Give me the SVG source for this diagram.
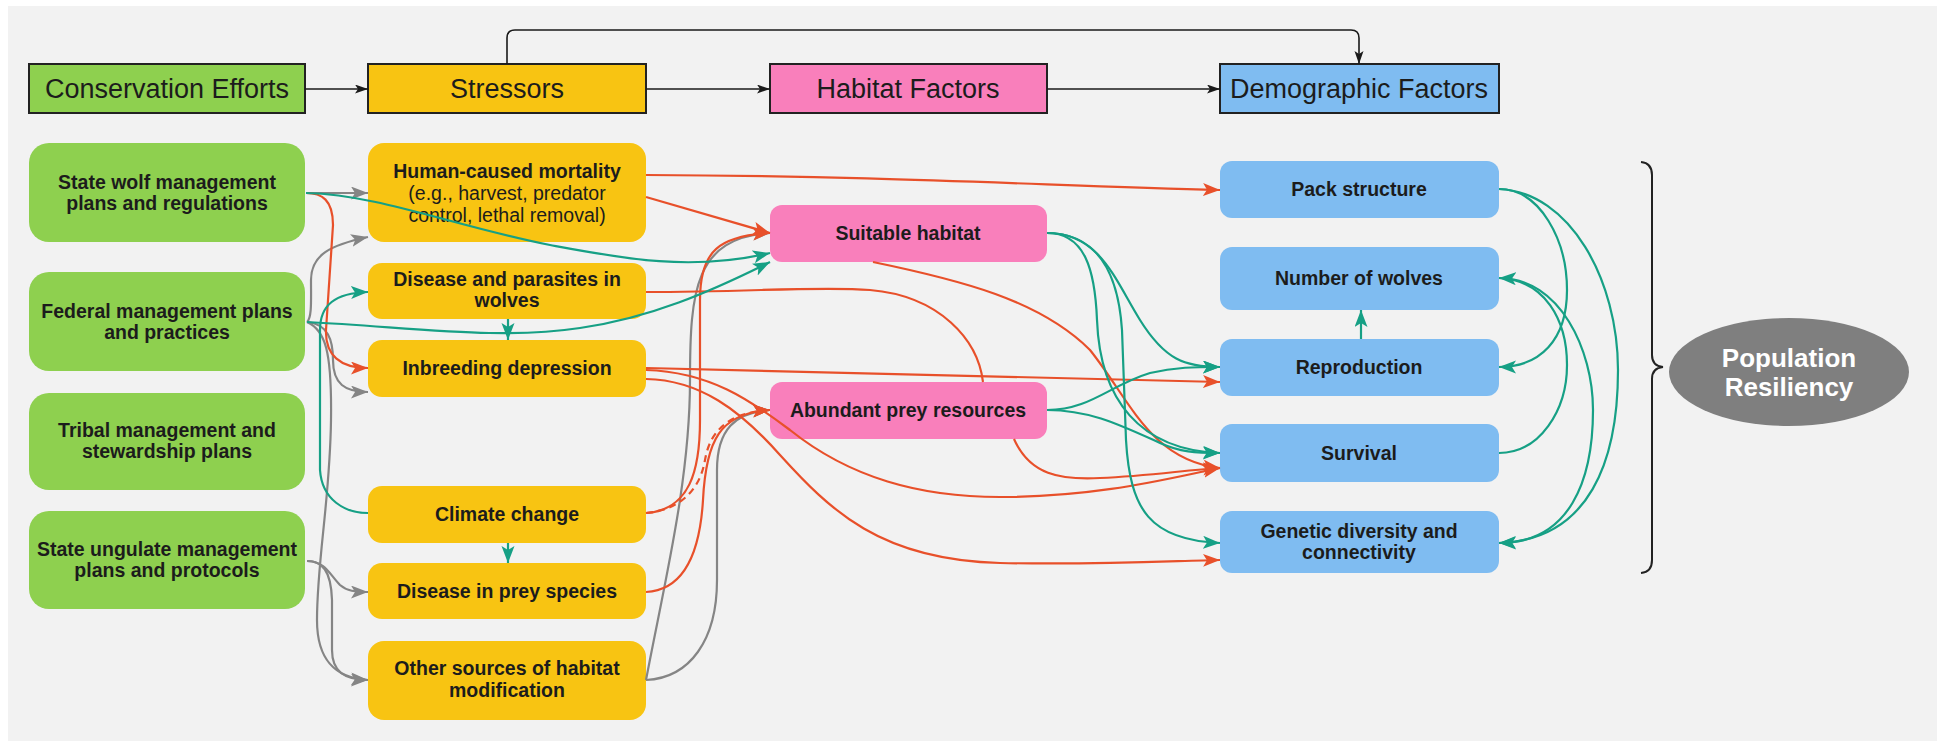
<svg xmlns="http://www.w3.org/2000/svg" width="1937" height="741" viewBox="0 0 1937 741">
<defs>
<style>
text{font-family:"Liberation Sans",Arial,sans-serif;fill:#1c1c1c;text-anchor:middle}
.th{font-size:27px}
.tb{font-size:19.5px;font-weight:bold}
.tr{font-size:19.5px}
.tw{font-size:26px;font-weight:bold;fill:#ffffff}
.hb{stroke:#222;stroke-width:2}
.g{fill:#8ed04f}.y{fill:#f8c412}.p{fill:#f97fbb}.b{fill:#7fbcf1}
.cb{fill:none;stroke:#1a1a1a;stroke-width:1.6;marker-end:url(#mk)}
.cr{fill:none;stroke:#e8502a;stroke-width:2.2;marker-end:url(#mr)}
.ct{fill:none;stroke:#16a085;stroke-width:2.2;marker-end:url(#mt)}
.cg{fill:none;stroke:#858585;stroke-width:2.2;marker-end:url(#mg)}
</style>
<marker id="mk" markerUnits="userSpaceOnUse" markerWidth="14" markerHeight="10" refX="13" refY="4.5" orient="auto"><path d="M0,0 L13,4.5 L0,9 L3,4.5 Z" fill="#1a1a1a"/></marker>
<marker id="mr" markerUnits="userSpaceOnUse" markerWidth="18" markerHeight="14" refX="17" refY="6.5" orient="auto"><path d="M0,0 L17,6.5 L0,13 L4,6.5 Z" fill="#e8502a"/></marker>
<marker id="mt" markerUnits="userSpaceOnUse" markerWidth="18" markerHeight="14" refX="17" refY="6.5" orient="auto"><path d="M0,0 L17,6.5 L0,13 L4,6.5 Z" fill="#16a085"/></marker>
<marker id="mg" markerUnits="userSpaceOnUse" markerWidth="18" markerHeight="14" refX="17" refY="6.5" orient="auto"><path d="M0,0 L17,6.5 L0,13 L4,6.5 Z" fill="#858585"/></marker>
</defs>
<rect x="0" y="0" width="1937" height="741" fill="#ffffff"/>
<rect x="8" y="6" width="1929" height="735" fill="#f2f2f2"/>

<g id="header-conservation"><rect class="g hb" x="29" y="64" width="276" height="49"/><text class="th" x="167" y="98">Conservation Efforts</text></g>
<g id="header-stressors"><rect class="y hb" x="368" y="64" width="278" height="49"/><text class="th" x="507" y="98">Stressors</text></g>
<g id="header-habitat"><rect class="p hb" x="770" y="64" width="277" height="49"/><text class="th" x="908" y="98">Habitat Factors</text></g>
<g id="header-demographic"><rect class="b hb" x="1220" y="64" width="279" height="49"/><text class="th" x="1359" y="98">Demographic Factors</text></g>

<g id="n-state-wolf"><rect class="g" x="29" y="143" width="276" height="99" rx="20"/><text class="tb" x="167" y="189">State wolf management</text><text class="tb" x="167" y="210">plans and regulations</text></g>
<g id="n-federal"><rect class="g" x="29" y="272" width="276" height="99" rx="20"/><text class="tb" x="167" y="318">Federal management plans</text><text class="tb" x="167" y="339">and practices</text></g>
<g id="n-tribal"><rect class="g" x="29" y="393" width="276" height="97" rx="20"/><text class="tb" x="167" y="437">Tribal management and</text><text class="tb" x="167" y="458">stewardship plans</text></g>
<g id="n-state-ungulate"><rect class="g" x="29" y="511" width="276" height="98" rx="20"/><text class="tb" x="167" y="556">State ungulate management</text><text class="tb" x="167" y="577">plans and protocols</text></g>

<g id="n-human"><rect class="y" x="368" y="143" width="278" height="99" rx="16"/><text class="tb" x="507" y="178">Human-caused mortality</text><text class="tr" x="507" y="200">(e.g., harvest, predator</text><text class="tr" x="507" y="222">control, lethal removal)</text></g>
<g id="n-disease-wolves"><rect class="y" x="368" y="263" width="278" height="56" rx="14"/><text class="tb" x="507" y="286">Disease and parasites in</text><text class="tb" x="507" y="307">wolves</text></g>
<g id="n-inbreeding"><rect class="y" x="368" y="340" width="278" height="57" rx="14"/><text class="tb" x="507" y="375">Inbreeding depression</text></g>
<g id="n-climate"><rect class="y" x="368" y="486" width="278" height="57" rx="14"/><text class="tb" x="507" y="521">Climate change</text></g>
<g id="n-disease-prey"><rect class="y" x="368" y="563" width="278" height="56" rx="14"/><text class="tb" x="507" y="598">Disease in prey species</text></g>
<g id="n-other"><rect class="y" x="368" y="641" width="278" height="79" rx="16"/><text class="tb" x="507" y="675">Other sources of habitat</text><text class="tb" x="507" y="697">modification</text></g>

<g id="n-suitable"><rect class="p" x="770" y="205" width="277" height="57" rx="12"/><text class="tb" x="908" y="240">Suitable habitat</text></g>
<g id="n-prey"><rect class="p" x="770" y="382" width="277" height="57" rx="12"/><text class="tb" x="908" y="417">Abundant prey resources</text></g>

<g id="n-pack"><rect class="b" x="1220" y="161" width="279" height="57" rx="12"/><text class="tb" x="1359" y="196">Pack structure</text></g>
<g id="n-number"><rect class="b" x="1220" y="247" width="279" height="63" rx="12"/><text class="tb" x="1359" y="285">Number of wolves</text></g>
<g id="n-reproduction"><rect class="b" x="1220" y="339" width="279" height="57" rx="12"/><text class="tb" x="1359" y="374">Reproduction</text></g>
<g id="n-survival"><rect class="b" x="1220" y="424" width="279" height="58" rx="12"/><text class="tb" x="1359" y="460">Survival</text></g>
<g id="n-genetic"><rect class="b" x="1220" y="511" width="279" height="62" rx="12"/><text class="tb" x="1359" y="538">Genetic diversity and</text><text class="tb" x="1359" y="559">connectivity</text></g>

<g id="n-brace"><path d="M1641,162 Q1652,163 1652,175 L1652,355 Q1652,366 1663,367 Q1652,368 1652,379 L1652,560 Q1652,572 1641,573" fill="none" stroke="#222" stroke-width="2"/></g>
<g id="n-resiliency"><ellipse cx="1789" cy="372" rx="120" ry="54" fill="#7f7f7f"/><text class="tw" x="1789" y="367">Population</text><text class="tw" x="1789" y="396">Resiliency</text></g>

<g id="connectors">
<path class="cb" d="M305,89 L368,89"/>
<path class="cb" d="M646,89 L770,89"/>
<path class="cb" d="M1047,89 L1220,89"/>
<path class="cb" d="M507,64 L507,38 Q507,30 515,30 L1351,30 Q1359,30 1359,38 L1359,64"/>

<path class="cg" d="M306,193 L368,193"/>
<path class="cg" d="M307,322 C312,318 311,300 311,280 C311,255 330,245 368,237"/>
<path class="cg" d="M307,322 C328,324 333,340 333,360 C333,384 345,392 368,392"/>
<path class="cg" d="M307,322 C325,330 332,350 331,420 C330,500 317,560 317,620 C317,660 335,678 368,680"/>
<path class="cg" d="M307,561 C325,561 330,575 340,585 C347,591 355,592 368,592"/>
<path class="cg" d="M307,561 C322,561 331,570 332,600 L332,650 C332,672 345,680 368,680"/>
<path class="cg" d="M646,680 C665,580 690,480 690,380 C690,290 695,238 770,233"/>
<path class="cg" d="M646,680 C690,678 717,640 717,580 L717,470 C717,430 735,412 770,410"/>

<path class="cr" d="M306,193 C322,193 333,200 333,225 L326,330 C325,355 340,368 368,368"/>
<path class="cr" d="M646,175 C900,176 1050,186 1220,190"/>
<path class="cr" d="M646,197 L770,233"/>
<path class="cr" d="M873,262 C960,280 1040,300 1090,350 C1130,400 1150,460 1220,468"/>
<path class="cr" d="M646,292 C750,292 820,286 870,290 C940,296 978,340 983,382 M1014,439 C1030,475 1060,480 1100,478 C1150,476 1185,470 1220,468"/>
<path class="cr" d="M646,368 L1220,382"/>
<path class="cr" d="M646,370 C710,372 750,400 790,430 C850,478 920,497 1000,497 C1100,497 1170,478 1220,468"/>
<path class="cr" d="M646,379 C700,380 740,410 780,455 C830,510 880,560 1000,563 C1100,565 1170,561 1220,560"/>
<path class="cr" d="M646,513 C690,510 700,470 700,420 L700,300 C700,250 720,236 770,233"/>
<path class="cr" stroke-dasharray="7 5" d="M646,513 C680,510 700,490 705,460 C710,430 730,412 770,410"/>
<path class="cr" d="M646,592 C685,590 700,550 703,500 C706,440 720,413 770,410"/>

<path class="ct" d="M306,193 C380,195 450,225 550,245 C620,258 690,272 770,253"/>
<path class="ct" d="M307,322 C420,328 500,340 580,328 C650,318 710,292 770,262"/>
<path class="ct" d="M368,513 C345,513 322,500 320,470 L320,330 C320,305 335,293 368,292"/>
<path class="ct" d="M508,319 L508,340"/>
<path class="ct" d="M508,543 L508,563"/>
<path class="ct" d="M1047,233 C1100,233 1115,280 1140,320 C1165,360 1185,367 1220,367"/>
<path class="ct" d="M1047,233 C1085,233 1095,270 1097,320 C1100,400 1140,450 1220,453"/>
<path class="ct" d="M1047,233 C1095,233 1118,270 1122,330 L1126,440 C1130,510 1150,540 1220,543"/>
<path class="ct" d="M1047,410 C1090,410 1110,385 1150,373 C1175,367 1195,367 1220,367"/>
<path class="ct" d="M1047,410 C1090,410 1120,425 1160,443 C1180,452 1195,453 1220,453"/>
<path class="ct" d="M1499,189 C1540,189 1567,240 1567,290 C1567,340 1540,367 1499,367"/>
<path class="ct" d="M1499,189 C1570,192 1618,280 1618,370 C1618,460 1590,540 1499,543"/>
<path class="ct" d="M1499,453 C1540,453 1567,410 1567,365 C1567,320 1545,280 1499,278"/>
<path class="ct" d="M1499,278 C1560,278 1593,350 1593,410 C1593,480 1570,543 1499,543"/>
<path class="ct" d="M1361,339 L1361,310"/>
</g>
</svg>
